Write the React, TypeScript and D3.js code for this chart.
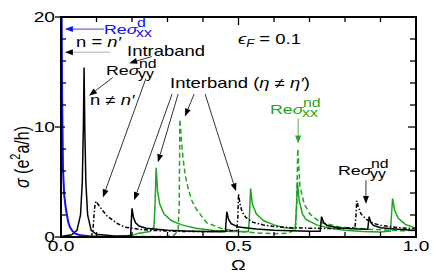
import React from "react";
import * as d3 from "d3";

const W = 436;
const H = 273;
const margin = { top: 17, right: 20, bottom: 35, left: 61 };
const SX = 1.32; // the figure text is stretched sideways

// Re sigma^d_xx, Drude part (blue)
const drudeXX = [
  [0, 30], [0.003, 13], [0.0056, 6.2], [0.009, 3.8], [0.014, 2.5], [0.02, 1.4],
  [0.025, 0.9], [0.032, 0.55], [0.04, 0.3], [0.055, 0.15], [0.08, 0.06], [0.12, 0.02], [0.2, 0],
];

// Re sigma^nd_yy (black solid)
const ndYY = [
  [0, 0.05], [0.03, 0.2], [0.045, 0.6], [0.055, 2], [0.06, 5], [0.063, 10], [0.065, 15.4],
  [0.067, 10], [0.07, 5], [0.075, 2], [0.085, 0.6], [0.1, 0.25], [0.15, 0.1], [0.196, 0.1],
  [0.2, 2.6], [0.204, 1.8], [0.21, 1.3], [0.22, 1.0], [0.24, 0.8], [0.27, 0.7], [0.3, 0.62],
  [0.35, 0.55], [0.4, 0.5], [0.45, 0.48], [0.463, 0.5], [0.467, 2.3], [0.472, 1.6], [0.48, 1.2],
  [0.5, 0.9], [0.55, 0.72], [0.6, 0.62], [0.65, 0.56], [0.7, 0.52], [0.73, 0.52], [0.734, 1.85],
  [0.74, 1.3], [0.75, 1.05], [0.78, 0.85], [0.82, 0.75], [0.864, 0.7], [0.868, 1.85],
  [0.873, 1.3], [0.88, 1.05], [0.9, 0.85], [0.95, 0.7], [1.0, 0.6],
];

// Re sigma^nd_yy interband, other branch (black dash-dot)
const ndYYdash = [
  [0.085, 0], [0.09, 0.6], [0.093, 2], [0.096, 3.0], [0.099, 3.25], [0.104, 3.0], [0.115, 2.5],
  [0.13, 1.9], [0.143, 1.6], [0.16, 1.2], [0.18, 0.9], [0.22, 0.7], [0.255, 0.6], [0.3, 0.55],
  [0.35, 0.5], [0.4, 0.5], [0.45, 0.52], [0.495, 0.6], [0.498, 1.6], [0.5, 3.9], [0.505, 2.9],
  [0.51, 2.3], [0.52, 1.8], [0.54, 1.35], [0.57, 1.1], [0.6, 0.95], [0.65, 0.85], [0.7, 0.8],
  [0.75, 0.78], [0.8, 0.78], [0.828, 0.85], [0.831, 2.0], [0.833, 3.3], [0.838, 2.7],
  [0.845, 2.1], [0.86, 1.6], [0.88, 1.25], [0.9, 1.05], [0.95, 0.85], [1.0, 0.75],
];

// Re sigma^nd_xx (green solid)
const ndXX = [
  [0, 0], [0.15, 0], [0.2, 0.15], [0.22, 0.35], [0.25, 0.5], [0.262, 0.9], [0.265, 3],
  [0.268, 6.3], [0.272, 4.2], [0.278, 3.0], [0.29, 2.1], [0.31, 1.5], [0.34, 1.1], [0.38, 0.8],
  [0.43, 0.6], [0.48, 0.5], [0.528, 0.5], [0.531, 2], [0.534, 4.4], [0.539, 3.0], [0.55, 2.1],
  [0.57, 1.5], [0.6, 1.1], [0.63, 0.85], [0.66, 0.75], [0.663, 2.5], [0.666, 5.0], [0.671, 3.3],
  [0.68, 2.1], [0.69, 1.6], [0.72, 1.1], [0.76, 0.8], [0.8, 0.62], [0.85, 0.5], [0.9, 0.45],
  [0.928, 0.55], [0.931, 2], [0.934, 3.5], [0.94, 2.4], [0.95, 1.7], [0.97, 1.15], [1.0, 0.8],
];

// Re sigma^nd_xx, other branch (green dashed)
const ndXXdash = [
  [0, 0], [0.3, 0.05], [0.32, 0.2], [0.33, 0.6], [0.333, 3], [0.335, 10.7], [0.34, 8.5],
  [0.344, 7.1], [0.35, 5.6], [0.359, 4.3], [0.37, 3.2], [0.382, 2.5], [0.41, 1.3], [0.45, 0.8],
  [0.5, 0.5], [0.55, 0.38], [0.6, 0.3], [0.64, 0.35], [0.66, 0.7], [0.664, 3], [0.667, 8.0],
  [0.673, 4.6], [0.685, 3.0], [0.701, 2.1], [0.73, 1.33], [0.786, 0.9], [0.861, 0.72],
  [0.955, 0.57], [1.0, 0.6],
];

const xMinorTicks = d3.range(0, 1.0001, 0.1);
const xMajorTicks = [0, 0.5, 1.0];
const xTickLabels = ["0.0", "0.5", "1.0"];
const yMinorTicks = d3.range(0, 20.001, 2);
const yMajorTicks = [0, 10, 20];
const yTickLabels = ["0", "10", "20"];

const x = d3.scaleLinear().domain([0, 1]).range([margin.left, W - margin.right]);
const y = d3.scaleLinear().domain([0, 20]).range([H - margin.bottom - 1, margin.top]);

const line = d3
  .line<number[]>()
  .x((d) => x(d[0]))
  .y((d) => y(d[1]));

const FONT = "'Liberation Sans', Arial, Helvetica, sans-serif";
const GREEN = "#1fa51f";
const BLUE = "#1010f0";

function T({ x0, y0, size = 14, fill = "#000", anchor = "start", children }: any) {
  return (
    <text
      transform={`translate(${x0},${y0}) scale(${SX},1)`}
      fontSize={size}
      fill={fill}
      textAnchor={anchor}
      fontFamily={FONT}
    >
      {children}
    </text>
  );
}

// a "Re sigma" label with stacked superscript/subscript
function ReSigma({ x0, y0, sup, sub, fill = "#000" }: any) {
  return (
    <g>
      <T x0={x0} y0={y0} size={13.5} fill={fill}>
        Re<tspan fontStyle="italic">σ</tspan>
      </T>
      <T x0={x0 + 33} y0={y0 - 7} size={12} fill={fill}>
        {sup}
      </T>
      <T x0={x0 + 32} y0={y0 + 3} size={12} fill={fill}>
        {sub}
      </T>
    </g>
  );
}

// arrows, in data units: [Ω0, σ0, Ω1, σ1]
const arrows = [
  { p: [0.121, 18.9, 0.011, 18.9], c: BLUE },
  { p: [0.138, 16.8, 0.011, 16.8], c: "#999" },
  { p: [0.256, 16.4, 0.192, 15.8], c: "#000" },
  { p: [0.146, 14.5, 0.079, 12.85], c: "#000" },
  { p: [0.239, 14.4, 0.118, 3.6], c: "#000" },
  { p: [0.313, 13.0, 0.206, 3.35], c: "#000" },
  { p: [0.33, 13.0, 0.273, 6.8], c: "#000" },
  { p: [0.375, 13.0, 0.349, 10.95], c: "#000" },
  { p: [0.406, 13.0, 0.493, 4.15], c: "#000" },
  { p: [0.668, 10.77, 0.668, 8.5], c: GREEN },
  { p: [0.859, 5.16, 0.859, 3.0], c: "#000" },
];

function Arrow({ p, c }: any) {
  const x0 = x(p[0]), y0 = y(p[1]), x1 = x(p[2]), y1 = y(p[3]);
  const ang = Math.atan2(y1 - y0, x1 - x0);
  const L = 8, w = 3;
  const bx = x1 - L * Math.cos(ang), by = y1 - L * Math.sin(ang);
  const px = -Math.sin(ang) * w, py = Math.cos(ang) * w;
  const head = c === "#999" ? "#000" : c;
  return (
    <g>
      <line x1={x0} y1={y0} x2={bx} y2={by} stroke={c} strokeWidth={0.8} />
      <path d={`M${x1},${y1}L${bx + px},${by + py}L${bx - px},${by - py}Z`} fill={head} />
    </g>
  );
}

export default function App() {
  const left = margin.left, right = W - margin.right;
  const top = margin.top, bottom = y(0);
  return (
    <svg
      width={W}
      height={H}
      style={{ position: "absolute", left: 0, top: 0, background: "#fff" }}
    >
      <defs>
        <clipPath id="plot">
          <rect x={left} y={top} width={right - left} height={bottom - top} />
        </clipPath>
      </defs>

      <g clipPath="url(#plot)" fill="none" strokeWidth={1.5}>
        <path d={line(ndXXdash as any) || ""} stroke={GREEN} strokeDasharray="5,3" />
        <path d={line(ndXX as any) || ""} stroke={GREEN} />
        <path d={line(ndYYdash as any) || ""} stroke="#000" strokeDasharray="4,2,1.5,2" />
        <path d={line(ndYY as any) || ""} stroke="#000" />
        <path d={line(drudeXX as any) || ""} stroke={BLUE} strokeWidth={2} />
      </g>

      {/* ticks */}
      <g stroke="#000" strokeWidth={1.3}>
        {xMinorTicks.map((t) => {
          const big = xMajorTicks.some((m) => Math.abs(m - t) < 1e-6);
          const len = big ? 8 : 5;
          return (
            <g key={"x" + t}>
              <line x1={x(t)} x2={x(t)} y1={bottom} y2={bottom - len} />
              <line x1={x(t)} x2={x(t)} y1={top} y2={top + len} />
            </g>
          );
        })}
        {yMinorTicks.map((t) => {
          const big = yMajorTicks.includes(t);
          return (
            <g key={"y" + t}>
              {big ? (
                <line x1={left - 6} x2={left + 4} y1={y(t)} y2={y(t)} />
              ) : (
                <line x1={left} x2={left + 5} y1={y(t)} y2={y(t)} />
              )}
              <line x1={right} x2={right - (big ? 8 : 6)} y1={y(t)} y2={y(t)} />
            </g>
          );
        })}
      </g>

      <rect
        x={left}
        y={top}
        width={right - left}
        height={bottom - top}
        fill="none"
        stroke="#000"
        strokeWidth={2}
      />

      {/* tick labels */}
      {xMajorTicks.map((t, i) => (
        <T key={"xl" + t} x0={x(t)} y0={bottom + 14} size={14.5} anchor="middle">
          {xTickLabels[i]}
        </T>
      ))}
      {yMajorTicks.map((t, i) => (
        <T key={"yl" + t} x0={left - 6} y0={y(t) + 5} size={14.5} anchor="end">
          {yTickLabels[i]}
        </T>
      ))}

      <T x0={(left + right) / 2} y0={270} size={15} anchor="middle">
        Ω
      </T>
      <text
        transform={`translate(29,188) rotate(-90) scale(1,${SX})`}
        fontSize={16}
        fontFamily={FONT}
        textAnchor="start"
      >
        <tspan fontStyle="italic">σ</tspan> (e
        <tspan fontSize={11} dy={-7}>2</tspan>
        <tspan dy={7}>a/h)</tspan>
      </text>

      {arrows.map((a, i) => (
        <Arrow key={i} p={a.p} c={a.c} />
      ))}

      <ReSigma x0={104} y0={34} sup="d" sub="xx" fill={BLUE} />
      <T x0={76} y0={47}>
        n = <tspan fontStyle="italic">n′</tspan>
      </T>
      <T x0={127} y0={56}>Intraband</T>
      <ReSigma x0={106} y0={75} sup="nd" sub="yy" />
      <T x0={90} y0={105}>
        n ≠ <tspan fontStyle="italic">n′</tspan>
      </T>
      <T x0={170} y0={88}>
        Interband (<tspan fontStyle="italic">η</tspan> ≠ <tspan fontStyle="italic">η′</tspan>)
      </T>
      <T x0={238} y0={44}>
        <tspan fontStyle="italic">ϵ</tspan>
        <tspan fontSize={10} dy={3} fontStyle="italic">F</tspan>
        <tspan dy={-3}> = 0.1</tspan>
      </T>
      <ReSigma x0={270} y0={114} sup="nd" sub="xx" fill={GREEN} />
      <ReSigma x0={338} y0={175} sup="nd" sub="yy" />
    </svg>
  );
}
